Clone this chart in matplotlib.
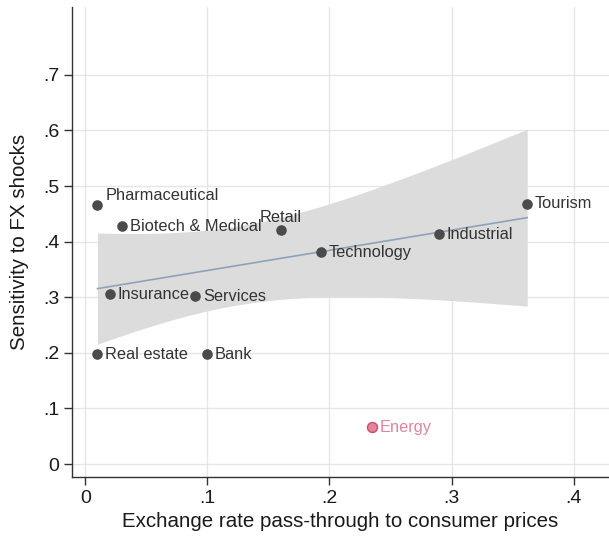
import numpy as np
import matplotlib
matplotlib.use("Agg")
import matplotlib.pyplot as plt

plt.rcParams['font.family'] = ['Liberation Sans', 'DejaVu Sans']

sectors = ["Pharmaceutical", "Biotech & Medical", "Retail", "Technology", "Industrial",
           "Tourism", "Insurance", "Services", "Real estate", "Bank"]
passthrough = [0.010, 0.030, 0.160, 0.193, 0.290, 0.362, 0.020, 0.090, 0.010, 0.100]
sensitivity = [0.466, 0.428, 0.420, 0.381, 0.413, 0.468, 0.305, 0.302, 0.197, 0.197]
label_pos = ["ur", "r", "up", "r", "r", "r", "r", "r", "r", "r"]

outlier_name = ["Energy"]
outlier_x = [0.235]
outlier_y = [0.0665]

xticks = [0, 0.1, 0.2, 0.3, 0.4]
xticklabels = ["0", ".1", ".2", ".3", ".4"]
yticks = [0, 0.1, 0.2, 0.3, 0.4, 0.5, 0.6, 0.7]
yticklabels = ["0", ".1", ".2", ".3", ".4", ".5", ".6", ".7"]

x = np.array(passthrough)
y = np.array(sensitivity)
n = len(x)
mx, my = x.mean(), y.mean()
sxx = ((x - mx) ** 2).sum()
b = ((x - mx) * (y - my)).sum() / sxx
a = my - b * mx
resid = y - (a + b * x)
s = np.sqrt((resid ** 2).sum() / (n - 2))
tcrit = 2.306  # t(0.975, 8)
xg = np.linspace(x.min(), x.max(), 200)
yg = a + b * xg
se = s * np.sqrt(1.0 / n + (xg - mx) ** 2 / sxx)

fig = plt.figure(figsize=(6.09, 5.37), dpi=100)
ax = fig.add_axes([0.1182, 0.1117, 0.8818, 0.8753])

ax.fill_between(xg, yg - tcrit * se, yg + tcrit * se, color="#dcdcdc", lw=0, zorder=1)
ax.plot(xg, yg, color="#8ea3b8", lw=1.2, zorder=2)

ax.scatter(x, y, s=58, color="#4b4b4b", zorder=3, lw=0)
ax.scatter(outlier_x, outlier_y, s=52, color="#e0859a", edgecolor="#c9506b", lw=1.0, zorder=3)

fs = 11.8
for name, xi, yi, p in zip(sectors, passthrough, sensitivity, label_pos):
    if p == "r":
        ax.annotate(name, (xi, yi), xytext=(5.5, 0), textcoords="offset points",
                    ha="left", va="center", fontsize=fs, color="#333333", zorder=4)
    elif p == "ur":
        ax.annotate(name, (xi, yi), xytext=(6, 7), textcoords="offset points",
                    ha="left", va="center", fontsize=fs, color="#333333", zorder=4)
    else:
        ax.annotate(name, (xi, yi), xytext=(0, 9), textcoords="offset points",
                    ha="center", va="center", fontsize=fs, color="#333333", zorder=4)
for name, xi, yi in zip(outlier_name, outlier_x, outlier_y):
    ax.annotate(name, (xi, yi), xytext=(5.5, 0), textcoords="offset points",
                ha="left", va="center", fontsize=fs, color="#e0859a", zorder=4)

ax.set_xlim(-0.0109, 0.429)
ax.set_ylim(-0.0234, 0.822)
ax.set_xticks(xticks)
ax.set_xticklabels(xticklabels)
ax.set_yticks(yticks)
ax.set_yticklabels(yticklabels)
ax.grid(True, color="#e6e6e6", lw=1.0, zorder=0)
ax.set_axisbelow(True)
for sp in ["top", "right"]:
    ax.spines[sp].set_visible(False)
for sp in ["left", "bottom"]:
    ax.spines[sp].set_color("#333333")
    ax.spines[sp].set_linewidth(1.0)
ax.tick_params(axis="both", direction="out", length=6, width=1.0, color="#333333",
               labelsize=14, labelcolor="#1a1a1a", pad=3)
ax.set_xlabel("Exchange rate pass-through to consumer prices", fontsize=14.8, color="#1a1a1a", labelpad=4)
ax.set_ylabel("Sensitivity to FX shocks", fontsize=14.8, color="#1a1a1a", labelpad=10)

fig.savefig("out.png", dpi=100)
